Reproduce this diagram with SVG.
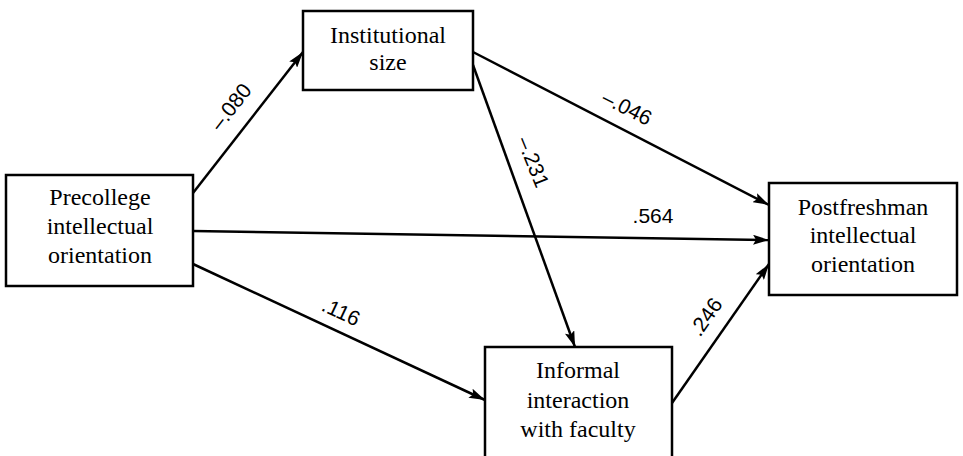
<svg xmlns="http://www.w3.org/2000/svg" width="963" height="456" viewBox="0 0 963 456">
<defs>
<marker id="ah" markerWidth="16" markerHeight="10" refX="16" refY="5" orient="auto" markerUnits="userSpaceOnUse">
<path d="M0,0 L16,5 L0,10 L3,5 Z" fill="#000"/>
</marker>
<style>
.box{fill:#fff;stroke:#000;stroke-width:2.5}
.nt{font-family:"Liberation Serif","Times New Roman",serif;font-size:24px;text-anchor:middle;fill:#000}
.lb{font-family:"Liberation Sans",Arial,sans-serif;font-size:21px;text-anchor:middle;fill:#000}
.ed{stroke:#000;stroke-width:2.5;fill:none;marker-end:url(#ah)}
</style>
</defs>
<rect width="963" height="456" fill="#fff"/>
<g id="connectors">
<line class="ed" x1="193" y1="193" x2="303" y2="52"/>
<line class="ed" x1="473" y1="52" x2="769" y2="205"/>
<line class="ed" x1="473" y1="65" x2="575" y2="347"/>
<line class="ed" x1="193" y1="231" x2="769" y2="240"/>
<line class="ed" x1="193" y1="264" x2="485" y2="400"/>
<line class="ed" x1="672" y1="403" x2="769" y2="264"/>
<text class="lb" transform="translate(231,107) rotate(-52)" y="7">–.080</text>
<text class="lb" transform="translate(627,108) rotate(27)" y="7">–.046</text>
<text class="lb" transform="translate(533,162) rotate(68)" y="7">–.231</text>
<text class="lb" x="653" y="223">.564</text>
<text class="lb" transform="translate(341,312) rotate(25)" y="7">.116</text>
<text class="lb" transform="translate(706,317) rotate(-55)" y="7">.246</text>
</g>
<g id="precollege">
<rect class="box" x="6" y="175" width="187" height="111"/>
<text class="nt" x="100" y="205">Precollege</text>
<text class="nt" x="100" y="234">intellectual</text>
<text class="nt" x="100" y="263">orientation</text>
</g>
<g id="institutional">
<rect class="box" x="303" y="11" width="170" height="79"/>
<text class="nt" x="388" y="43">Institutional</text>
<text class="nt" x="388" y="70">size</text>
</g>
<g id="postfreshman">
<rect class="box" x="769" y="183" width="188" height="112"/>
<text class="nt" x="863" y="215">Postfreshman</text>
<text class="nt" x="863" y="243">intellectual</text>
<text class="nt" x="863" y="272">orientation</text>
</g>
<g id="informal">
<rect class="box" x="485" y="347" width="187" height="125"/>
<text class="nt" x="578" y="378">Informal</text>
<text class="nt" x="578" y="408">interaction</text>
<text class="nt" x="578" y="437">with faculty</text>
</g>
</svg>
